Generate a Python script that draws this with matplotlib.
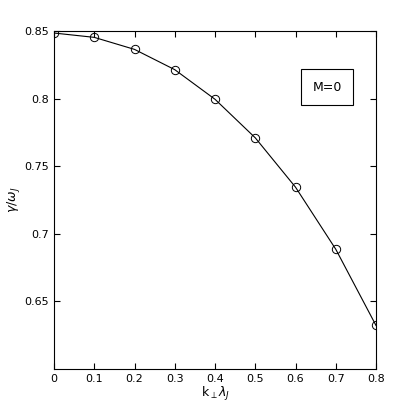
import matplotlib.pyplot as plt

k = [0, 0.1, 0.2, 0.3, 0.4, 0.5, 0.6, 0.7, 0.8]
gamma = [0.8485, 0.8453, 0.8364, 0.8214, 0.7995, 0.7710, 0.7345, 0.6886, 0.6322]

fig = plt.figure(figsize=(4.15, 4.15), dpi=100)
ax = fig.add_axes([54 / 415, 1 - 369 / 415, 322 / 415, 338 / 415])
ax.plot(k, gamma, color='black', lw=0.8, marker='o', ms=6, mfc='none', mew=0.7)
ax.set_xlim(0, 0.8)
ax.set_ylim(0.6, 0.85)
ax.set_xticks(k)
ax.set_xticklabels(['0', '0.1', '0.2', '0.3', '0.4', '0.5', '0.6', '0.7', '0.8'])
ax.set_yticks([0.65, 0.7, 0.75, 0.8, 0.85])
ax.set_yticklabels(['0.65', '0.7', '0.75', '0.8', '0.85'])
ax.tick_params(direction='in', labelsize=8, length=4, top=True, right=True)
ax.set_xlabel(r'k$_\perp$$\lambda_J$', fontsize=9, labelpad=1)
ax.set_ylabel(r'$\gamma/\omega_J$', fontsize=9, labelpad=2)
ax.text(0.848, 0.834, 'M=0', transform=ax.transAxes, fontsize=9,
        ha='center', va='center',
        bbox=dict(boxstyle='square,pad=0.9', fc='white', ec='black', lw=0.8))
fig.savefig('out.png', dpi=100)
